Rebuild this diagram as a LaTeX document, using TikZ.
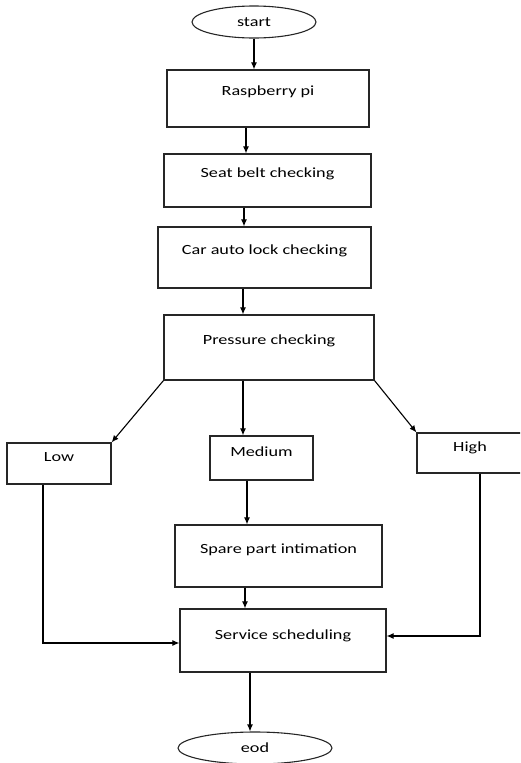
\documentclass[tikz,border=0pt]{standalone}
\usepackage{fontspec}
\setmainfont{Carlito}[FakeStretch=1.3]
\usepackage{tikz}
\usetikzlibrary{shapes.geometric,arrows.meta}

\begin{document}
\begin{tikzpicture}[x=1pt, y=-1pt, >={Latex[length=7pt,width=6pt]},
    procbox/.style={rectangle, draw=black!85, line width=1.2pt, font=\fontsize{14}{17}\selectfont, text height=9pt, text depth=16pt},
    terminal/.style={ellipse, draw=black!85, line width=1.1pt, inner sep=0pt, font=\fontsize{14}{17}\selectfont}]
    \clip (0,0) rectangle (520,763);

    \node[terminal, minimum width=124pt, minimum height=32pt] (start) at (254,22) {start};
    \node[procbox, minimum width=202pt, minimum height=57pt] (raspi) at (268,98.5) {Raspberry pi};
    \node[procbox, minimum width=207pt, minimum height=53pt] (seatbelt) at (267.5,180.5) {Seat belt checking};
    \node[procbox, minimum width=213pt, minimum height=61pt] (autolock) at (264.5,257.5) {Car auto lock checking};
    \node[procbox, minimum width=210pt, minimum height=65pt] (pressure) at (269,347.5) {Pressure checking};
    \node[procbox, minimum width=104pt, minimum height=41pt, text depth=13pt] (low) at (59,463.5) {Low};
    \node[procbox, minimum width=103pt, minimum height=44pt, text depth=12pt] (medium) at (261.5,458) {Medium};
    \node[procbox, minimum width=106pt, minimum height=40pt, text depth=12pt] (high) at (470,453) {High};
    \node[procbox, minimum width=207pt, minimum height=62pt, text depth=14pt] (spare) at (278.5,556) {Spare part intimation};
    \node[procbox, minimum width=206pt, minimum height=63pt, text depth=12pt] (service) at (283,640.5) {Service scheduling};
    \node[terminal, minimum width=154pt, minimum height=32pt] (eod) at (255,748) {eod};

    \draw[->, line width=1.1pt] (start) -- (start |- raspi.north);
    \draw[->, line width=1.1pt] ([xshift=-22pt]raspi.south) -- ([xshift=-22pt]raspi.south |- seatbelt.north);
    \draw[->, line width=1.1pt] ([xshift=-23.5pt]seatbelt.south) -- ([xshift=-23.5pt]seatbelt.south |- autolock.north);
    \draw[->, line width=1.1pt] ([xshift=-21.5pt]autolock.south) -- ([xshift=-21.5pt]autolock.south |- pressure.north);

    \draw[->, line width=1.1pt] (pressure.south west) -- (low.north east);
    \draw[->, line width=1.1pt] ([xshift=-26pt]pressure.south) -- ([xshift=-26pt]pressure.south |- medium.north);
    \draw[->, line width=1.1pt] (pressure.south east) -- (high.north west);

    \draw[->, line width=1.1pt] ([xshift=-14.5pt]medium.south) -- ([xshift=-14.5pt]medium.south |- spare.north);
    \draw[->, line width=1.1pt] ([xshift=-33.5pt]spare.south) -- ([xshift=-33.5pt]spare.south |- service.north);
    \draw[->, line width=1.1pt] ([xshift=-16pt]low.south) |- ([yshift=-2.5pt]service.west);
    \draw[->, line width=1.1pt] ([xshift=10pt]high.south) |- ([yshift=4.5pt]service.east);
    \draw[->, line width=1.1pt] ([xshift=-33pt]service.south) -- ([xshift=-33pt]service.south |- eod.north);
\end{tikzpicture}
\end{document}
